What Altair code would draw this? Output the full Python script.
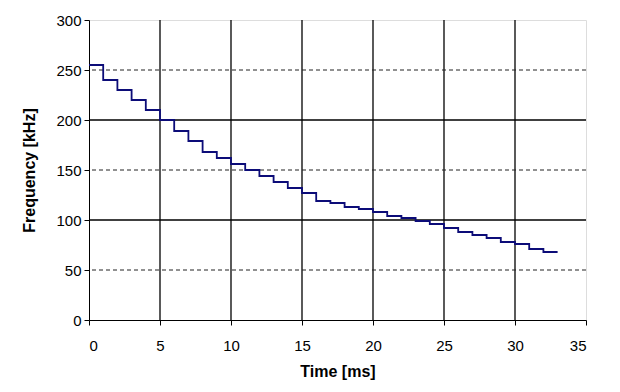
import altair as alt
import pandas as pd

# Step start times [ms] and frequency levels [kHz]
times = [0, 1, 2, 3, 4, 5, 6, 7, 8, 9, 10, 11, 12, 13, 14, 15, 16, 17, 18, 19,
         20, 21, 22, 23, 24, 25, 26, 27, 28, 29, 30, 31, 32, 33]
freqs = [255, 240, 230, 220, 210, 200, 189, 179, 168, 162, 156, 150, 144, 138, 132, 127, 119, 117, 113, 111,
         108, 104, 102, 99, 96, 92, 88, 85, 82, 78, 76, 71, 68, 68]

x_ticks = [0, 5, 10, 15, 20, 25, 30, 35]
y_ticks = [0, 50, 100, 150, 200, 250, 300]
v_grid = [5, 10, 15, 20, 25, 30]
h_grid_solid = [100, 200]
h_grid_dashed = [50, 150, 250]

df = pd.DataFrame({"t": times, "f": freqs})

FONT = "Liberation Sans"
xs = alt.Scale(domain=[0, 35], nice=False, zero=False)
ys = alt.Scale(domain=[0, 300], nice=False)

xaxis = alt.Axis(values=x_ticks, grid=False, domainColor="black", tickColor="black",
                 tickSize=5, labelPadding=13, titlePadding=10,
                 labelFont=FONT, labelFontSize=15, labelColor="black",
                 titleFont=FONT, titleFontSize=16, titleFontWeight="bold", titleColor="black")
yaxis = alt.Axis(values=y_ticks, grid=False, domainColor="black", tickColor="black",
                 tickSize=5, labelPadding=3, titlePadding=18,
                 labelFont=FONT, labelFontSize=15, labelColor="black",
                 titleFont=FONT, titleFontSize=16, titleFontWeight="bold", titleColor="black")

X = lambda: alt.X("t:Q", scale=xs, title="Time [ms]", axis=xaxis)
Y = lambda: alt.Y("f:Q", scale=ys, title="Frequency [kHz]", axis=yaxis)

vgrid = alt.Chart(pd.DataFrame({"t": v_grid})).mark_rule(color="black", strokeWidth=1.3).encode(x=X())
hgrid = alt.Chart(pd.DataFrame({"f": h_grid_solid})).mark_rule(color="black", strokeWidth=1.3).encode(y=Y())
hgrid_d = alt.Chart(pd.DataFrame({"f": h_grid_dashed})).mark_rule(
    color="#222222", strokeWidth=1, strokeDash=[4, 3]
).encode(y=Y())

line = alt.Chart(df).mark_line(interpolate="step-after", color="#0c0c78", strokeWidth=1.8).encode(
    x=X(), y=Y()
)

chart = alt.layer(vgrid, hgrid, hgrid_d, line).properties(
    width=497, height=300,
    autosize=alt.AutoSizeParams(type="none"),
    padding={"left": 81, "top": 12, "right": 20, "bottom": 60},
).configure_view(stroke="#808080", strokeWidth=1.5).configure(background="white")

chart.save("out.html", embed_options={"renderer": "svg", "actions": False})
